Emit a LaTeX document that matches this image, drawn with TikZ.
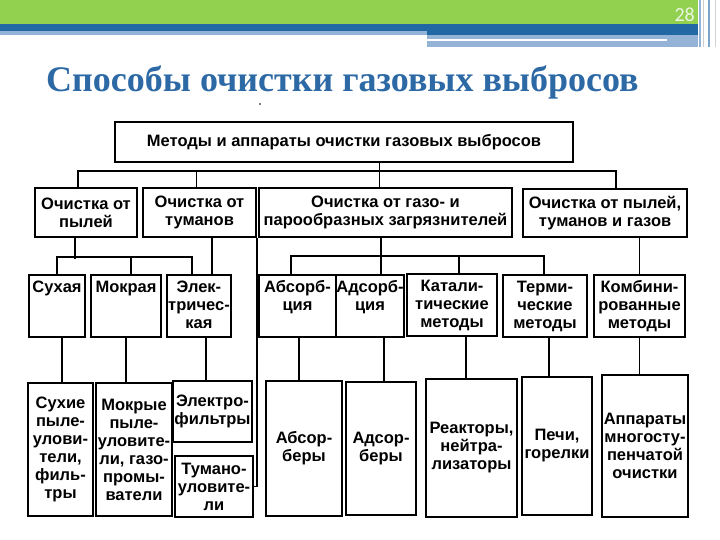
\documentclass[tikz,border=0pt]{standalone}
\usepackage{fontspec}
\setmainfont{Liberation Serif}
\newfontfamily\boxfont{Liberation Sans}
\newfontfamily\numfont{Carlito}
\usetikzlibrary{positioning,calc}

\definecolor{bandgreen}{RGB}{146,208,80}
\definecolor{banddark}{RGB}{33,104,165}
\definecolor{bandlight}{RGB}{149,179,215}
\definecolor{titleblue}{RGB}{44,105,165}
\definecolor{numwhite}{RGB}{236,246,226}

\tikzset{
  cell/.style={draw,line width=2.2pt,inner sep=0.5pt,
    font=\boxfont\bfseries\fontsize{16.5}{18}\selectfont},
  box/.style={cell,align=center},
  headbox/.style={cell,text height=16.5pt,text depth=44.5pt,minimum height=62pt},
  link/.style={line width=1.3pt}
}
\newcommand\toplines[1]{\begin{tabular}[t]{@{}c@{}}#1\end{tabular}}

\begin{document}
\begin{tikzpicture}[x=1pt,y=-1pt]
\useasboundingbox (0,0) rectangle (720,540);

% header bands
\fill[bandgreen] (0,0) rectangle (698,24);
\fill[banddark] (0,24) rectangle (698,31);
\fill[bandlight] (0,31) rectangle (427,35);
\fill[banddark] (427,31) rectangle (698,35);
\fill[bandlight] (427,35) rectangle (698,47);
\fill[white] (427,39) rectangle (667,41);
\draw[bandlight,line width=1.5pt] (700,0) -- (700,47);
\draw[gray!40,line width=1pt] (703,0) -- (703,47);
\draw[banddark!60,line width=1.5pt] (709,0) -- (709,47);
\draw[gray!35,line width=1pt] (715,0) -- (715,47);
\node[font=\numfont\fontsize{20}{24}\selectfont,text=numwhite,anchor=base east,inner sep=0] (num) at (695,22) {28};

% title
\node[font=\bfseries\fontsize{36}{40}\selectfont,text=titleblue,anchor=base west,inner sep=0] (title) at (46,92) {Способы очистки газовых выбросов};
\fill (260,104) circle (0.8);

% top box
\node[box,minimum width=458pt,minimum height=40pt] (top) at (344,142) {Методы и аппараты очистки газовых выбросов};

% second row
\node[box,minimum width=102pt,minimum height=49pt] (pyl) at (86,212.5) {Очистка от\\пылей};
\node[box,minimum width=113pt,minimum height=49pt] (tuman) at (199.5,212.5) {Очистка от\\туманов};
\node[box,minimum width=253pt,minimum height=49pt] (gaz) at (385.5,212.5) {Очистка от газо- и\\парообразных загрязнителей};
\node[box,minimum width=164pt,minimum height=48pt] (vse) at (605,213) {Очистка от пылей,\\туманов и газов};

% third row
\node[headbox,minimum width=56pt] (suh) at (57,306) {\toplines{Сухая}};
\node[headbox,minimum width=70pt] (mokr) at (126,306) {\toplines{Мокрая}};
\node[headbox,minimum width=64pt] (elek) at (199,306) {\toplines{Элек-\\тричес-\\кая}};
\node[headbox,minimum width=77pt] (absc) at (297.5,306) {\toplines{Абсорб-\\ция}};
\node[headbox,minimum width=66pt] (adsc) at (370,306) {\toplines{Адсорб-\\ция}};
\node[headbox,minimum width=90pt] (kat) at (452,305) {\toplines{Катали-\\тические\\методы}};
\node[headbox,minimum width=84pt] (term) at (545,306) {\toplines{Терми-\\ческие\\методы}};
\node[headbox,minimum width=91pt] (komb) at (639.5,306) {\toplines{Комбини-\\рованные\\методы}};

% fourth row
\node[box,minimum width=65pt,minimum height=133pt] (suhie) at (60.5,449.5) {Сухие\\пыле-\\улови-\\тели,\\филь-\\тры};
\node[box,minimum width=76pt,minimum height=133pt] (mokrye) at (134,449.5) {Мокрые\\пыле-\\уловите-\\ли, газо-\\промы-\\ватели};
\node[box,minimum width=79pt,minimum height=61pt] (elf) at (212.5,411.5) {Электро-\\фильтры};
\node[box,minimum width=78pt,minimum height=61pt] (tumul) at (214,486.5) {Тумано-\\уловите-\\ли};
\node[box,minimum width=76pt,minimum height=135pt] (absb) at (304,448.5) {Абсор-\\беры};
\node[box,minimum width=70pt,minimum height=133pt] (adsb) at (381,448.5) {Адсор-\\беры};
\node[box,minimum width=91pt,minimum height=138pt] (reak) at (471.5,448) {Реакторы,\\нейтра-\\лизаторы};
\node[box,minimum width=70pt,minimum height=138pt] (pechi) at (557,446) {Печи,\\горелки};
\node[box,minimum width=86pt,minimum height=142pt] (appar) at (645,446) {Аппараты\\многосту-\\пенчатой\\очистки};

% top box to second row
\draw[link] ([xshift=-6pt]gaz.north) -- ([xshift=-6pt]gaz.north |- top.south);
\draw[link] ([xshift=-8pt]pyl.north) -- ++(0,-16) -| ([xshift=11pt]vse.north);
\draw[link] ([xshift=-3pt]tuman.north) -- ++(0,-16);

% second row to third row
\draw[link] ([xshift=-11pt]pyl.south) -- ++(0,21);
\draw[link] (suh.north) -- ++(0,-17) -| ([xshift=-7pt]elek.north);
\draw[link] ([xshift=5pt]mokr.north) -- ++(0,-17);
\draw[link] ([xshift=13pt]elek.north) -- ([xshift=13pt]elek.north |- tuman.south);
\draw[link] (tuman.south east) |- (tumul.east);
\draw[link] ([xshift=11pt]adsc.north) -- ([xshift=11pt]adsc.north |- gaz.south);
\draw[link] ([xshift=-6.5pt]absc.north) -- ++(0,-18) -| ([xshift=-1pt]term.north);
\draw[link] ([xshift=7pt]kat.north) -- ++(0,-17);
\draw[link] (komb.north) -- (komb.north |- vse.south);

% third row to fourth row
\draw[link] ([xshift=5pt]suh.south) -- ([xshift=5pt]suh.south |- suhie.north);
\draw[link] (mokr.south) -- (mokr.south |- mokrye.north);
\draw[link] ([xshift=7pt]elek.south) -- ([xshift=7pt]elek.south |- elf.north);
\draw[link] ([xshift=1.5pt]absc.south) -- ([xshift=1.5pt]absc.south |- absb.north);
\draw[link] ([xshift=14pt]adsc.south) -- ([xshift=14pt]adsc.south |- adsb.north);
\draw[link] ([xshift=14pt]kat.south) -- ([xshift=14pt]kat.south |- reak.north);
\draw[link] ([xshift=4pt]term.south) -- ([xshift=4pt]term.south |- pechi.north);
\draw[link] (komb.south) -- (komb.south |- appar.north);
\end{tikzpicture}
\end{document}
